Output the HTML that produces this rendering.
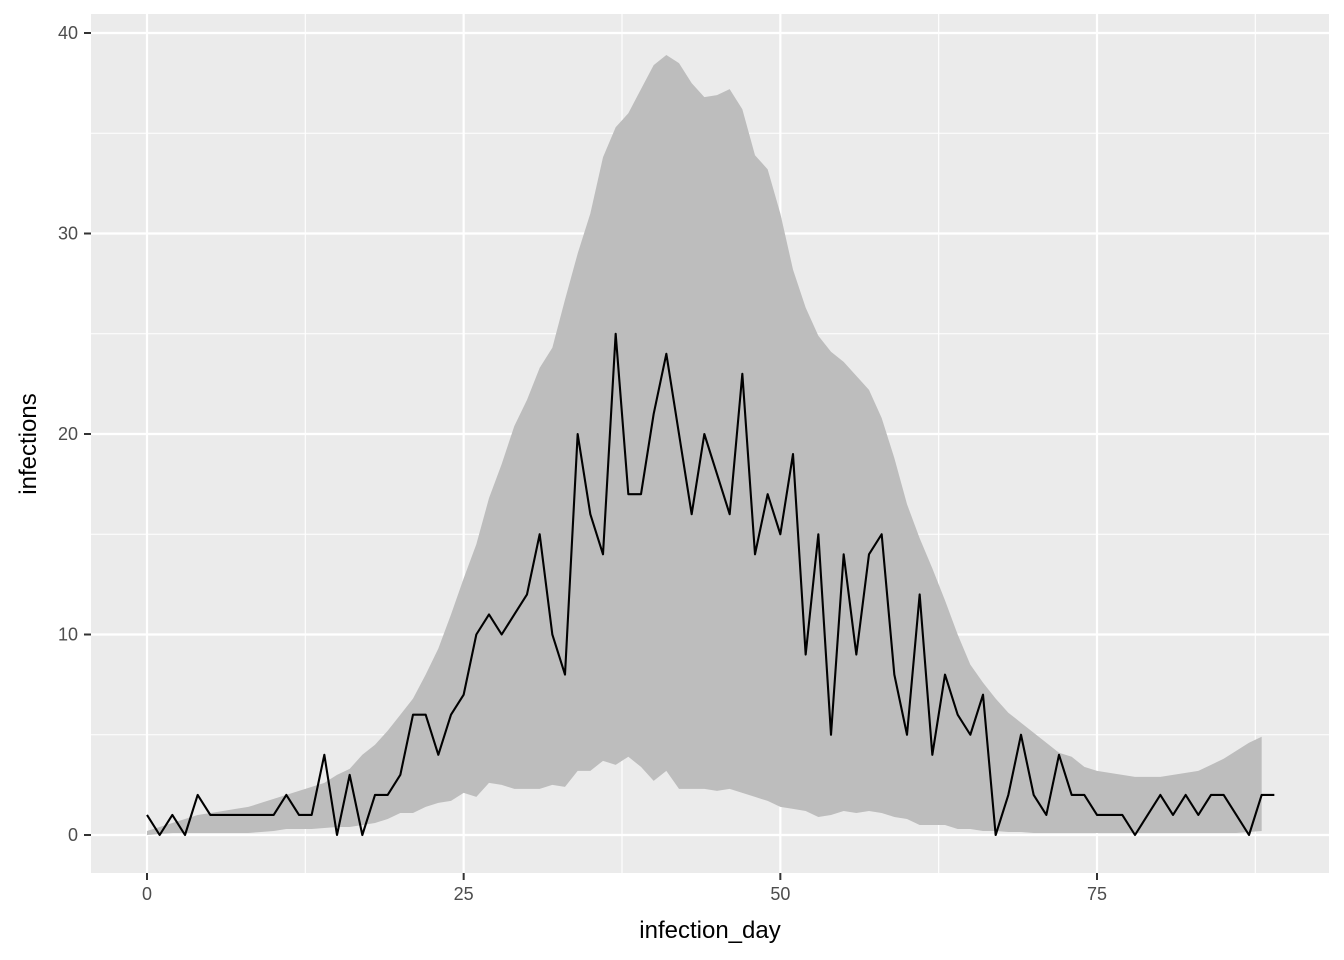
<!DOCTYPE html>
<html><head><meta charset="utf-8"><style>
body{margin:0;background:#fff;}
svg{display:block;font-family:"Liberation Sans",sans-serif;}
</style></head><body>
<svg id="chart" width="1344" height="960">
<rect x="91" y="14" width="1238" height="859" fill="#ebebeb"/>
<g id="grid"></g>
<g id="marks"></g>
<g id="axes"></g>
<text x="710" y="938" font-size="24" text-anchor="middle" fill="#000">infection_day</text>
<text transform="translate(36,444) rotate(-90)" font-size="24" text-anchor="middle" fill="#000">infections</text>
</svg>
<script>
const infections=[1,0,1,0,2,1,1,1,1,1,1,2,1,1,4,0,3,0,2,2,3,6,6,4,6,7,10,11,10,11,12,15,10,8,20,16,14,25,17,17,21,24,20,16,20,18,16,23,14,17,15,19,9,15,5,14,9,14,15,8,5,12,4,8,6,5,7,0,2,5,2,1,4,2,2,1,1,1,0,1,2,1,2,1,2,2,1,0,2,2];
const upper=[0.2,0.4,0.6,0.8,1.0,1.1,1.2,1.3,1.4,1.6,1.8,2.0,2.2,2.4,2.6,3.0,3.3,4.0,4.5,5.2,6.0,6.8,8.0,9.3,11,12.8,14.5,16.8,18.5,20.4,21.7,23.3,24.3,26.7,29,31,33.8,35.3,36,37.2,38.4,38.9,38.5,37.5,36.8,36.9,37.2,36.2,33.9,33.2,31,28.2,26.3,24.9,24.1,23.6,22.9,22.2,20.8,18.8,16.5,14.8,13.3,11.7,10,8.5,7.6,6.8,6.1,5.6,5.1,4.6,4.1,3.9,3.4,3.2,3.1,3.0,2.9,2.9,2.9,3.0,3.1,3.2,3.5,3.8,4.2,4.6,4.9];
const lower=[0,0.05,0.1,0.1,0.1,0.1,0.1,0.1,0.1,0.15,0.2,0.3,0.3,0.3,0.35,0.4,0.4,0.5,0.6,0.8,1.1,1.1,1.4,1.6,1.7,2.1,1.9,2.6,2.5,2.3,2.3,2.3,2.5,2.4,3.2,3.2,3.7,3.5,3.9,3.4,2.7,3.2,2.3,2.3,2.3,2.2,2.3,2.1,1.9,1.7,1.4,1.3,1.2,0.9,1.0,1.2,1.1,1.2,1.1,0.9,0.8,0.5,0.5,0.5,0.3,0.3,0.2,0.2,0.15,0.15,0.1,0.1,0.1,0.1,0.1,0.1,0.1,0.1,0.1,0.1,0.1,0.1,0.1,0.1,0.1,0.1,0.1,0.15,0.2];
const xTicks=[0,25,50,75];
const yTicks=[0,10,20,30,40];
const NS="http://www.w3.org/2000/svg";
const sx=d=>147+d*(950/75);
const sy=v=>835-v*(802/40);
function mk(tag,attrs,parent){const e=document.createElementNS(NS,tag);for(const k in attrs)e.setAttribute(k,attrs[k]);parent.appendChild(e);return e;}
const grid=document.getElementById('grid'),marks=document.getElementById('marks'),axes=document.getElementById('axes');
for(let i=0;i<xTicks.length;i++){const m=xTicks[i]+12.5;const l=mk('line',{x1:sx(m),x2:sx(m),y1:14,y2:873,stroke:'#fff','stroke-width':1.1},grid);

}
for(let i=0;i<yTicks.length;i++){const m=yTicks[i]+5;if(sy(m)<14)continue;const l=mk('line',{x1:91,x2:1329,y1:sy(m),y2:sy(m),stroke:'#fff','stroke-width':1.1},grid);

}
xTicks.forEach(t=>{const l=mk('line',{x1:sx(t),x2:sx(t),y1:14,y2:873,stroke:'#fff','stroke-width':2.2},grid);


const tk=mk('line',{x1:sx(t),x2:sx(t),y1:873,y2:880,stroke:'#333','stroke-width':2},axes);


const tx=mk('text',{x:sx(t),y:900,'font-size':18,'text-anchor':'middle',fill:'#4d4d4d'},axes);tx.textContent=t;

});
yTicks.forEach(t=>{const l=mk('line',{x1:91,x2:1329,y1:sy(t),y2:sy(t),stroke:'#fff','stroke-width':2.2},grid);


const tk=mk('line',{x1:84,x2:91,y1:sy(t),y2:sy(t),stroke:'#333','stroke-width':2},axes);


const tx=mk('text',{x:78,y:sy(t)+6,'font-size':18,'text-anchor':'end',fill:'#4d4d4d'},axes);tx.textContent=t;

});
let d='';upper.forEach((v,i)=>{d+=(i?'L':'M')+sx(i)+','+sy(v);});
for(let i=lower.length-1;i>=0;i--)d+='L'+sx(i)+','+sy(lower[i]);d+='Z';
const rib=mk('path',{d:d,fill:'#bdbdbd'},marks);


const pts=infections.map((v,i)=>sx(i)+','+sy(v)).join(' ');
const ln=mk('polyline',{points:pts,fill:'none',stroke:'#000','stroke-width':2.1,'stroke-linejoin':'round'},marks);


</script>
</body></html>
